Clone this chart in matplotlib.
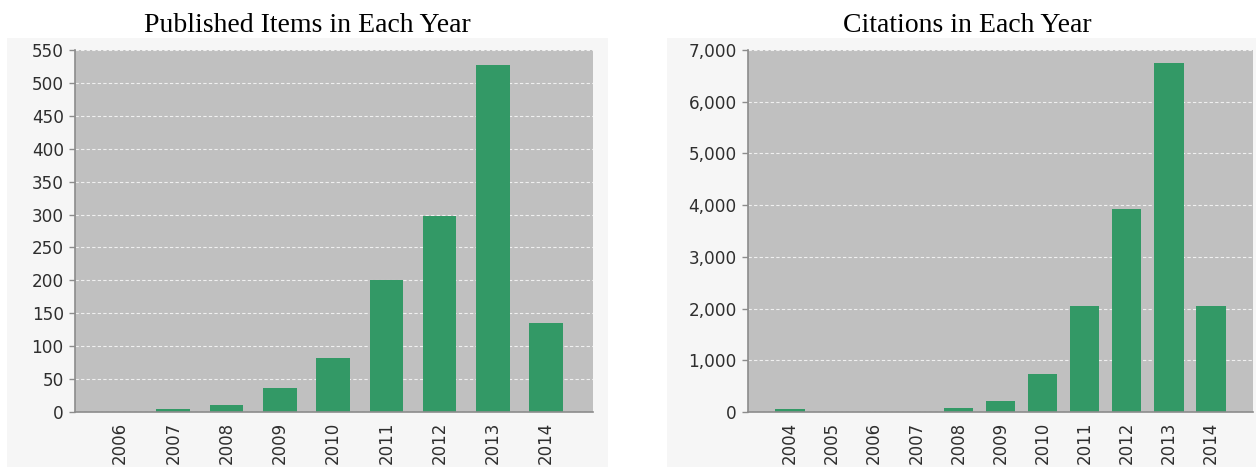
import matplotlib.pyplot as plt
from matplotlib.patches import Rectangle
from matplotlib.ticker import FuncFormatter

# published items per year
pub_years = ['2006', '2007', '2008', '2009', '2010', '2011', '2012', '2013', '2014']
pub_counts = [0, 4, 10, 36, 82, 201, 298, 527, 135]

# citations per year
cit_years = ['2004', '2005', '2006', '2007', '2008', '2009', '2010', '2011', '2012', '2013', '2014']
cit_counts = [50, 0, 0, 0, 85, 220, 730, 2050, 3920, 6740, 2050]

bar_color = '#339966'
plot_bg = '#c0c0c0'
panel_bg = '#f6f6f6'

fig = plt.figure(figsize=(12.56, 4.67), dpi=100)
fig.patch.set_facecolor('white')

# light gray panels behind each chart
fig.patches.append(Rectangle((0.0056, 0.0), 0.4785, 0.9186, transform=fig.transFigure,
                             facecolor=panel_bg, edgecolor='none', zorder=-1))
fig.patches.append(Rectangle((0.5311, 0.0), 0.4689, 0.9186, transform=fig.transFigure,
                             facecolor=panel_bg, edgecolor='none', zorder=-1))


def style_axes(ax, ymax, ystep):
    ax.set_facecolor(plot_bg)
    ax.set_ylim(0, ymax)
    ax.set_yticks(range(0, ymax + 1, ystep))
    ax.yaxis.grid(True, color='#f0f0f0', linestyle=(0, (3, 2)), linewidth=0.8)
    ax.set_axisbelow(True)
    for s in ['top', 'right']:
        ax.spines[s].set_visible(False)
    for s in ['left', 'bottom']:
        ax.spines[s].set_color('#8c8c8c')
        ax.spines[s].set_linewidth(1.2)
    ax.tick_params(axis='y', length=4.5, width=1, color='#8c8c8c', pad=3.5,
                   labelsize=12.2, labelcolor='#2e2e2e')
    ax.tick_params(axis='x', length=0, pad=7, labelsize=12, labelcolor='#2e2e2e',
                   labelrotation=90)


# left chart
ax1 = fig.add_axes([0.0597, 0.1178, 0.4124, 0.7751], zorder=1)
ax1.bar(range(len(pub_years)), pub_counts, width=0.63, color=bar_color, zorder=2)
ax1.set_xticks(range(len(pub_years)))
ax1.set_xticklabels(pub_years)
ax1.set_xlim(-0.845, len(pub_years) - 1 + 0.88)
style_axes(ax1, 550, 50)

# right chart
ax2 = fig.add_axes([0.5955, 0.1178, 0.4021, 0.7751], zorder=1)
ax2.bar(range(len(cit_years)), cit_counts, width=0.70, color=bar_color, zorder=2)
ax2.set_xticks(range(len(cit_years)))
ax2.set_xticklabels(cit_years)
ax2.set_xlim(-1.0, len(cit_years) - 1 + 1.0)
style_axes(ax2, 7000, 1000)
ax2.yaxis.set_major_formatter(FuncFormatter(lambda v, p: '{:,}'.format(int(v))))

fig.text(0.245, 0.9315, 'Published Items in Each Year', ha='center', va='baseline',
         fontsize=20, family='Liberation Serif')
fig.text(0.770, 0.9315, 'Citations in Each Year', ha='center', va='baseline',
         fontsize=20, family='Liberation Serif')

plt.savefig('out.png', dpi=100)
